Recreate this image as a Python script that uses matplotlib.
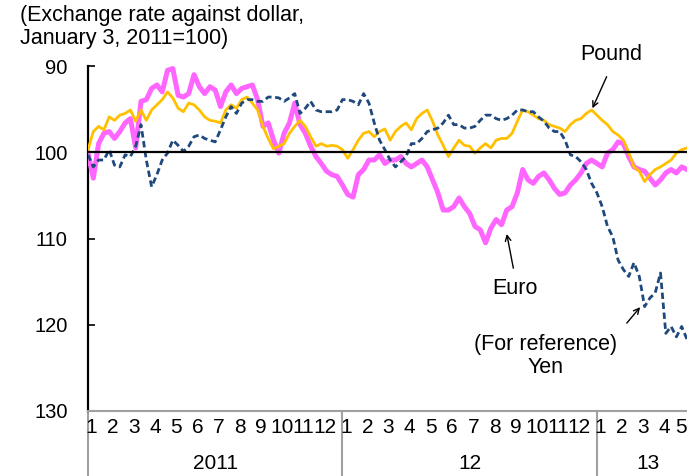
import numpy as np
import matplotlib
matplotlib.use("Agg")
import matplotlib.pyplot as plt
import matplotlib.transforms as mtransforms

plt.rcParams['font.family'] = ['Liberation Sans', 'DejaVu Sans']

# ---- data: index (Jan 3, 2011 = 100), sampled every quarter month from Jan 2011 ----
euro = [100.1, 103.0, 99.0, 97.8, 97.6, 98.4, 97.6, 96.6, 96.1, 99.5, 94.1, 93.9,
        92.6, 92.2, 93.0, 90.5, 90.3, 93.4, 93.6, 93.2, 91.0, 92.4, 93.2, 92.4,
        92.8, 94.7, 93.0, 92.2, 93.2, 92.6, 92.4, 92.2, 93.9, 97.0, 96.6, 98.6,
        100.1, 97.8, 96.6, 94.3, 96.8, 97.8, 99.3, 100.5, 101.3, 102.2, 102.6, 102.8,
        103.8, 104.9, 105.2, 102.6, 102.0, 100.9, 100.9, 100.3, 101.3, 100.9, 100.9, 100.5,
        101.3, 101.7, 101.3, 100.9, 101.7, 103.2, 104.7, 106.7, 106.7, 106.3, 105.3, 106.3,
        107.1, 108.6, 109.0, 110.5, 108.8, 107.8, 108.4, 106.7, 106.3, 104.7, 102.0, 103.2,
        103.6, 102.8, 102.4, 103.2, 104.2, 104.9, 104.7, 103.8, 103.2, 102.4, 101.3, 100.9,
        101.3, 101.7, 100.1, 99.7, 98.8, 99.0, 100.5, 101.7, 102.0, 102.2, 103.0, 103.8,
        103.2, 102.4, 102.0, 102.4, 101.7, 102.0]

pound = [99.7, 97.6, 97.0, 97.4, 95.9, 96.3, 95.7, 95.5, 95.1, 96.4, 95.1, 96.3,
         95.1, 94.5, 93.9, 93.0, 93.7, 94.9, 95.3, 94.3, 94.5, 95.1, 95.9, 96.3,
         96.4, 96.6, 95.1, 94.5, 94.9, 93.9, 93.6, 94.3, 95.1, 97.0, 98.4, 99.6,
         99.3, 99.0, 97.8, 97.0, 96.3, 97.0, 98.2, 99.3, 99.0, 99.3, 99.2, 99.3,
         99.7, 100.7, 99.7, 98.6, 97.8, 97.6, 98.2, 97.6, 97.3, 98.6, 97.6, 97.0,
         96.6, 97.4, 96.1, 95.5, 95.1, 96.4, 98.0, 99.2, 100.5, 99.5, 98.6, 99.2,
         99.3, 100.1, 99.5, 99.0, 99.5, 98.6, 98.4, 98.4, 97.8, 96.4, 95.1, 95.3,
         95.7, 96.1, 96.3, 96.8, 97.0, 97.2, 97.6, 96.8, 96.3, 96.1, 95.5, 95.1,
         95.7, 96.3, 96.8, 97.6, 98.0, 98.6, 100.0, 101.7, 102.2, 103.4, 102.6, 102.0,
         101.7, 101.3, 100.9, 100.1, 99.7, 99.5]

yen = [100.3, 101.7, 100.9, 100.9, 99.7, 101.5, 101.7, 100.3, 100.5, 99.3, 96.8, 100.9,
       104.0, 102.6, 100.9, 100.1, 98.6, 99.2, 99.9, 99.3, 98.2, 98.0, 98.4, 98.6,
       98.8, 97.4, 95.9, 94.7, 95.5, 94.3, 93.9, 93.9, 94.1, 94.1, 93.6, 93.6,
       93.7, 94.1, 93.7, 93.2, 95.5, 94.9, 94.1, 95.1, 95.3, 95.3, 95.3, 95.1,
       93.9, 93.9, 94.1, 94.5, 93.2, 94.3, 96.6, 98.6, 99.7, 100.9, 101.7, 101.1,
       100.5, 99.0, 99.0, 98.4, 97.6, 97.4, 97.2, 96.6, 95.7, 96.8, 96.8, 97.2,
       97.2, 97.0, 96.3, 95.7, 95.7, 96.1, 96.3, 96.1, 95.7, 95.1, 95.1, 95.3,
       95.3, 95.9, 96.4, 97.2, 97.6, 97.6, 98.6, 100.3, 100.5, 101.1, 102.0, 103.6,
       104.7, 106.3, 108.6, 109.8, 112.5, 113.6, 114.4, 112.8, 114.4, 117.9, 116.9, 116.3,
       114.0, 121.0, 120.2, 121.4, 120.2, 121.7]

month_labels = [str(i) for i in range(1, 13)] * 2 + ['1', '2', '3', '4', '5']
year_labels = ['2011', '12', '13']
year_pos = [6.0, 18.0, 26.4]
y_ticks = [90, 100, 110, 120, 130]

x = np.arange(len(euro)) * 0.25  # months since Jan 2011

fig = plt.figure(figsize=(6.87, 4.76), dpi=100)
ax = fig.add_axes([88 / 687, 65 / 476, 599 / 687, 345 / 476])
ax.set_xlim(0, 28.25)
ax.set_ylim(130, 90)

ax.plot(x, euro, color='#FF66FF', lw=3.6, zorder=3, solid_joinstyle='round')
ax.plot(x, pound, color='#FFC000', lw=2.0, zorder=4, solid_joinstyle='round')
ax.plot(x, yen, color='#1F497D', lw=2.0, ls=(0, (2.3, 1.3)), zorder=5)
ax.axhline(100, color='black', lw=1.6, zorder=6)

ax.set_yticks(y_ticks)
ax.set_yticklabels([str(v) for v in y_ticks])
ax.tick_params(axis='y', direction='in', length=5, width=1.2, pad=14.5, labelsize=14.5)
ax.set_xticks([])
for s in ['top', 'right']:
    ax.spines[s].set_visible(False)
ax.spines['left'].set_linewidth(1.6)
ax.spines['left'].set_color('black')
ax.spines['bottom'].set_color('#A0A0A0')
ax.spines['bottom'].set_linewidth(1.5)

trans = mtransforms.blended_transform_factory(ax.transData, ax.transAxes)
for xs in [0, 12, 24]:
    ax.plot([xs, xs], [0, -0.2], color='#A0A0A0', lw=1.5, transform=trans, clip_on=False)

month_font = ['Liberation Sans Narrow', 'Liberation Sans', 'DejaVu Sans']
for i, lab in enumerate(month_labels):
    xp = i + 0.17 if i < len(month_labels) - 1 else i - 0.02
    ax.text(xp, -0.049, lab, transform=trans, ha='center', va='center',
            fontsize=15, family=month_font, clip_on=False)
for lab, xp in zip(year_labels, year_pos):
    ax.text(xp, -0.153, lab, transform=trans, ha='center', va='center',
            fontsize=15, family=month_font, clip_on=False)

fig.text(20 / 687, 1 - 5 / 476, '(Exchange rate against dollar,\nJanuary 3, 2011=100)',
         ha='left', va='top', fontsize=15.5, linespacing=1.15)

arrow = dict(arrowstyle='->', color='black', lw=1.0, shrinkA=0, shrinkB=0)
ax.annotate('', xy=(23.79, 94.9), xytext=(24.46, 91.24), arrowprops=arrow, annotation_clip=False)
ax.text(24.67, 88.61, 'Pound', ha='center', va='center', fontsize=15.5, clip_on=False)
ax.annotate('', xy=(19.75, 109.47), xytext=(20.06, 113.44), arrowprops=arrow, annotation_clip=False)
ax.text(20.14, 115.84, 'Euro', ha='center', va='center', fontsize=15.5)
ax.annotate('', xy=(26.04, 117.96), xytext=(25.41, 119.81), arrowprops=arrow, annotation_clip=False)
ax.text(21.6, 123.6, '(For reference)\nYen', ha='center', va='center', fontsize=15.5,
        linespacing=1.1)

fig.savefig('out.png', dpi=100)
